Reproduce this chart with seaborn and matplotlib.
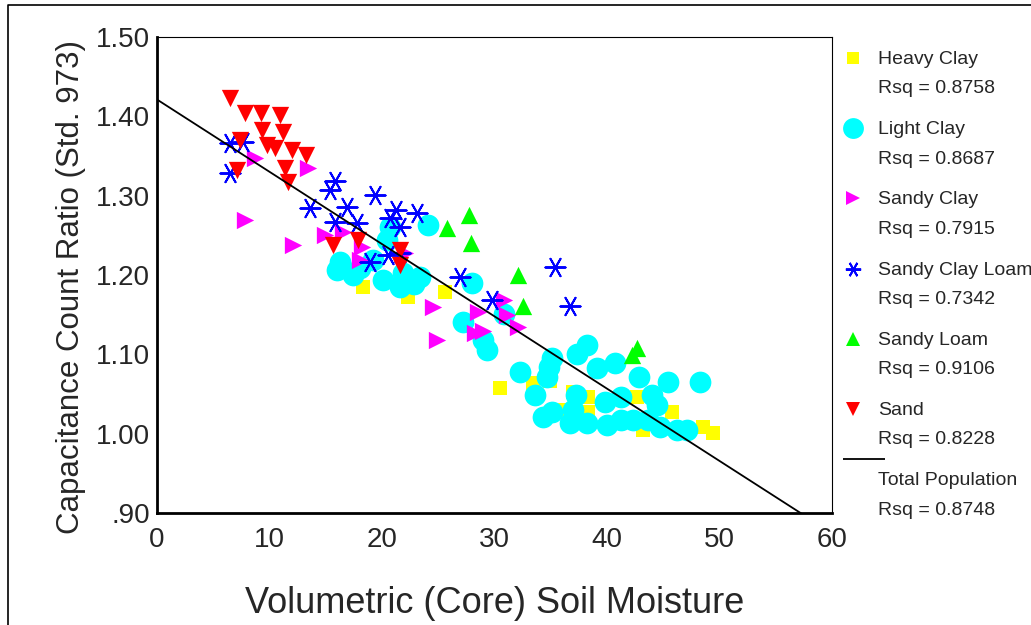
import matplotlib
matplotlib.use("Agg")
import matplotlib.pyplot as plt
import seaborn as sns
import pandas as pd
from matplotlib.lines import Line2D
from matplotlib.markers import MarkerStyle
from matplotlib.transforms import Affine2D

# values (moisture %, capacitance ratio)
heavy_clay_x = [18.3, 22.3, 25.6, 30.5, 33.4, 34.9, 37.0, 38.3, 38.3, 35.8, 42.7, 43.2, 45.8, 48.5, 49.4]
heavy_clay_y = [1.185, 1.172, 1.178, 1.057, 1.064, 1.067, 1.052, 1.046, 1.027, 1.030, 1.046, 1.004, 1.027, 1.008, 1.001]

light_clay_x = [24.1, 20.7, 20.4, 16.3, 16.0, 17.4, 19.2, 20.1, 21.9, 23.4, 21.6, 22.8, 18.0, 28.0,
                27.2, 29.0, 29.3, 30.8, 32.3,
                35.1, 34.8, 34.7, 37.3, 38.2, 40.7, 39.1, 42.8, 45.4, 48.3,
                33.6, 37.2, 39.8, 41.2, 44.0, 44.4, 34.3, 35.1, 37.0, 36.7, 38.2,
                40.0, 41.2, 42.3, 43.6, 44.7, 46.2, 47.1]
light_clay_y = [1.263, 1.260, 1.244, 1.216, 1.206, 1.200, 1.219, 1.194, 1.202, 1.197, 1.185, 1.189, 1.209, 1.190,
                1.141, 1.118, 1.105, 1.151, 1.078,
                1.096, 1.084, 1.071, 1.100, 1.112, 1.089, 1.083, 1.071, 1.065, 1.065,
                1.049, 1.049, 1.040, 1.046, 1.049, 1.036, 1.021, 1.027, 1.030, 1.013, 1.013,
                1.011, 1.017, 1.017, 1.017, 1.008, 1.004, 1.004]

sandy_clay_x = [8.7, 13.4, 7.8, 12.1, 14.9, 16.5, 18.2, 18.0, 22.0, 24.5, 24.9, 28.3, 29.0, 28.5, 30.8, 31.1, 32.1]
sandy_clay_y = [1.347, 1.335, 1.269, 1.238, 1.250, 1.254, 1.235, 1.219, 1.228, 1.160, 1.118, 1.127, 1.130, 1.153,
                1.168, 1.149, 1.134]

sandy_clay_loam_x = [6.5, 7.6, 6.5, 13.6, 15.4, 15.8, 16.9, 15.8, 17.8, 19.4, 21.2, 20.7, 21.6, 23.1, 18.9, 20.5,
                     21.6, 26.9, 29.8, 35.4, 36.7]
sandy_clay_loam_y = [1.366, 1.368, 1.328, 1.284, 1.307, 1.318, 1.286, 1.267, 1.265, 1.301, 1.282, 1.272, 1.260,
                     1.278, 1.216, 1.225, 1.228, 1.197, 1.168, 1.210, 1.161]

sandy_loam_x = [27.7, 25.8, 27.9, 32.1, 32.5, 42.7, 42.2]
sandy_loam_y = [1.276, 1.259, 1.240, 1.200, 1.161, 1.108, 1.099]

sand_x = [6.5, 7.8, 9.2, 10.9, 9.3, 11.2, 7.4, 9.8, 10.5, 12.0, 13.2, 11.4, 7.1, 11.6, 15.6, 17.9, 21.6, 21.6]
sand_y = [1.423, 1.404, 1.404, 1.402, 1.383, 1.380, 1.370, 1.364, 1.360, 1.358, 1.351, 1.335, 1.332, 1.317,
          1.238, 1.244, 1.212, 1.231]

soil_types = ["Heavy Clay", "Light Clay", "Sandy Clay", "Sandy Clay Loam", "Sandy Loam", "Sand"]
rsq_values = ["0.8758", "0.8687", "0.7915", "0.7342", "0.9106", "0.8228"]
total_rsq = "0.8748"

x_ticks = [0, 10, 20, 30, 40, 50, 60]
y_ticks = [0.90, 1.00, 1.10, 1.20, 1.30, 1.40, 1.50]
y_tick_labels = [".90", "1.00", "1.10", "1.20", "1.30", "1.40", "1.50"]

# build one dataframe
frames = []
for name, xs, ys in zip(soil_types,
                        [heavy_clay_x, light_clay_x, sandy_clay_x, sandy_clay_loam_x, sandy_loam_x, sand_x],
                        [heavy_clay_y, light_clay_y, sandy_clay_y, sandy_clay_loam_y, sandy_loam_y, sand_y]):
    frames.append(pd.DataFrame({"moisture": xs, "ratio": ys, "soil": name}))
df = pd.concat(frames, ignore_index=True)

sns.set_style("white")
plt.rcParams['font.family'] = ['Liberation Sans', 'DejaVu Sans']

styles = {
    "Heavy Clay": dict(marker="s", color="#ffff00", s=115, ms=9),
    "Light Clay": dict(marker="o", color="#00ffff", s=245, ms=15),
    "Sandy Clay": dict(marker=">", color="#ff00ff", s=155, ms=10),
    "Sandy Clay Loam": dict(marker=(6, 2, 90), color="#0000ff", s=210, ms=11),
    "Sandy Loam": dict(marker="^", color="#00ff00", s=155, ms=10),
    "Sand": dict(marker="v", color="#ff0000", s=155, ms=10),
}

fig = plt.figure(figsize=(10.31, 6.25), dpi=100)
ax = fig.add_axes([157 / 1031, 1 - 513 / 625, 675 / 1031, 476 / 625])

for name in soil_types:
    st = styles[name]
    sub = df[df["soil"] == name]
    if name == "Sandy Clay Loam":
        sns.scatterplot(data=sub, x="moisture", y="ratio", marker=st["marker"], s=st["s"],
                        color=st["color"], edgecolor=st["color"], linewidth=1.4, ax=ax, legend=False)
    else:
        sns.scatterplot(data=sub, x="moisture", y="ratio", marker=st["marker"], s=st["s"],
                        color=st["color"], linewidth=0, ax=ax, legend=False)

ax.set_xlim(0, 60)
ax.set_ylim(0.9, 1.5)

# total population fit line
sns.regplot(data=df, x="moisture", y="ratio", scatter=False, ci=None, truncate=False,
            color="black", line_kws={"linewidth": 1.3}, ax=ax)

ax.set_xticks(x_ticks)
ax.set_xticklabels([str(t) for t in x_ticks])
ax.set_yticks(y_ticks)
ax.set_yticklabels(y_tick_labels)
ax.tick_params(axis="both", labelsize=20, length=4, width=3, direction="inout", color="black")
ax.tick_params(axis="x", pad=8)
ax.tick_params(axis="y", pad=3)

for side in ["left", "bottom"]:
    ax.spines[side].set_linewidth(2)
    ax.spines[side].set_color("black")
for side in ["top", "right"]:
    ax.spines[side].set_linewidth(0.8)
    ax.spines[side].set_color("black")

ax.set_xlabel("Volumetric (Core) Soil Moisture", fontsize=26, labelpad=24)
ax.set_ylabel("Capacitance Count Ratio (Std. 973)", fontsize=22.5)
ax.yaxis.set_label_coords(-0.105, 0.475)

# legend: marker sits beside the first line of each two-line label
handles = []
labels = []
for name, rsq in zip(soil_types, rsq_values):
    st = styles[name]
    shift = Affine2D().translate(0, 11.5 / st["ms"])
    mk = MarkerStyle(st["marker"], transform=shift)
    if name == "Sandy Clay Loam":
        h = Line2D([], [], linestyle="none", marker=mk, markersize=st["ms"],
                   markeredgecolor=st["color"], markeredgewidth=1.4)
    else:
        h = Line2D([], [], linestyle="none", marker=mk, markersize=st["ms"],
                   markerfacecolor=st["color"], markeredgewidth=0)
    handles.append(h)
    labels.append(f"{name}\nRsq = {rsq}")
line_mk = MarkerStyle("_", transform=Affine2D().translate(8 / 30, 26 / 30))
handles.append(Line2D([], [], linestyle="none", marker=line_mk, markersize=30,
                      markeredgecolor="black", markeredgewidth=1.3))
labels.append(f"Total Population\nRsq = {total_rsq}")

leg = ax.legend(handles, labels, loc="upper left", bbox_to_anchor=(837 / 1031, 1 - 51 / 625),
                bbox_transform=fig.transFigure, frameon=False, fontsize=14,
                handlelength=1.6, handletextpad=0.5, labelspacing=1.22, borderpad=0, borderaxespad=0)
for t in leg.get_texts():
    t.set_linespacing(1.96)

# outer frame lines of the figure (left and top)
fig.add_artist(Line2D([8 / 1031, 8 / 1031, 1.0], [0.0, 1 - 5 / 625, 1 - 5 / 625],
                      transform=fig.transFigure, color="black", linewidth=1.2))

fig.savefig("out.png", dpi=100)
